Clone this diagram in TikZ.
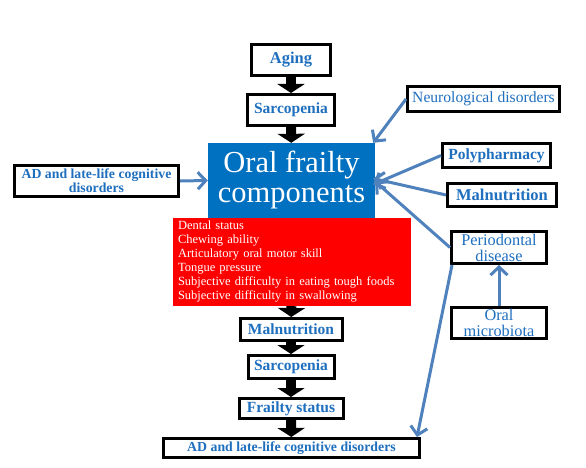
\documentclass[tikz,border=0pt]{standalone}
\usepackage{fontspec}
\setmainfont{Liberation Serif}
\usetikzlibrary{arrows.meta}

\definecolor{boxblue}{RGB}{0,112,192}
\definecolor{textblue}{RGB}{31,111,191}
\definecolor{linkblue}{RGB}{79,129,189}

\tikzset{
  factorbox/.style={draw=black, line width=3pt, fill=white, text=textblue,
    inner sep=0pt, align=center, font=\fontsize{15.5}{17}\selectfont\bfseries},
  plainbox/.style={factorbox, font=\fontsize{16.3}{16}\selectfont},
  flowarrow/.style={line width=10pt, -{Triangle[width=27pt,length=9pt]}},
  linkarrow/.style={draw=linkblue, line width=3pt, -{Straight Barb[length=8pt,width=17pt]}}
}

\begin{document}
\begin{tikzpicture}[x=1pt,y=-1pt]

        \useasboundingbox (0,0) rectangle (586,468);

        % main column
        \node[factorbox, minimum width=79pt, minimum height=31pt, font=\fontsize{16.5}{18}\selectfont\bfseries] (aging) at (291,60) {Aging};
        \node[factorbox, minimum width=87pt, minimum height=31pt] (sarcup) at (291,110) {Sarcopenia};
        \node[fill=boxblue, text=white, inner sep=0pt, minimum width=167pt, minimum height=75pt,
              align=center, font=\fontsize{30.5}{30}\selectfont] (oralfrail) at (291.5,180.5) {Oral frailty\\components};
        \node[fill=red, text=white, inner xsep=5pt, inner ysep=0pt, text width=228pt, minimum height=88pt,
              align=left, font=\fontsize{12.5}{14}\selectfont] (items) at (292,262)
              {Dental status\\Chewing ability\\Articulatory oral motor skill\\Tongue pressure\\
               Subjective difficulty in eating tough foods\\Subjective difficulty in swallowing};
        \node[factorbox, minimum width=102pt, minimum height=22pt] (malnut) at (291,329.5) {Malnutrition};
        \node[factorbox, minimum width=86pt, minimum height=23pt] (sarcdown) at (291,367) {Sarcopenia};
        \node[factorbox, minimum width=104pt, minimum height=20pt] (frailty) at (291,408.5) {Frailty status};
        \node[factorbox, minimum width=256pt, minimum height=19pt, font=\fontsize{13.8}{15}\selectfont\bfseries] (adbottom) at (291.5,448) {AD and late-life cognitive disorders};

        % side factors
        \node[factorbox, minimum width=164pt, minimum height=31pt, font=\fontsize{13.8}{14}\selectfont\bfseries] (adleft) at (96.5,181) {AD and late-life cognitive\\disorders};
        \node[plainbox, minimum width=152pt, minimum height=25pt, font=\fontsize{15.6}{16}\selectfont] (neuro) at (483.5,99) {Neurological disorders};
        \node[factorbox, minimum width=108pt, minimum height=24pt] (poly) at (496.5,155.5) {Polypharmacy};
        \node[factorbox, minimum width=109pt, minimum height=23pt, font=\fontsize{16.5}{18}\selectfont\bfseries] (malright) at (502,195) {Malnutrition};
        \node[plainbox, minimum width=95pt, minimum height=32pt] (perio) at (499,247.5) {Periodontal\\disease};
        \node[plainbox, minimum width=95pt, minimum height=31pt] (microb) at (499,323) {Oral\\microbiota};

        % black flow
        \draw[flowarrow] (aging) -- (sarcup);
        \draw[flowarrow] (sarcup) -- (oralfrail);
        \draw[flowarrow] (items) -- (malnut);
        \draw[flowarrow] (malnut) -- (sarcdown);
        \draw[flowarrow] (sarcdown) -- (frailty);
        \draw[flowarrow] (frailty) -- (adbottom);

        % blue links
        \draw[linkarrow] (adleft.east) -- (oralfrail.west);
        \draw[linkarrow] (neuro.west) -- ([xshift=-2pt]oralfrail.north east);
        \draw[linkarrow] (poly.west) -- ([xshift=-2pt,yshift=-4pt]oralfrail.east);
        \draw[linkarrow] (malright.west) -- ([xshift=-2pt,yshift=2pt]oralfrail.east);
        \draw[linkarrow] (perio.west) -- ([yshift=-1pt]oralfrail.east);
        \draw[linkarrow] (microb) -- (perio);
        \draw[linkarrow] ([xshift=2pt]perio.south west) -- ([xshift=-4pt]adbottom.north east);

    \end{tikzpicture}
\end{document}
